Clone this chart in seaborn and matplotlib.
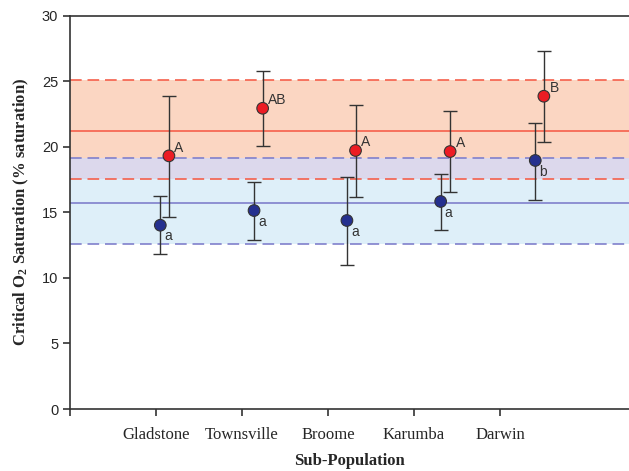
import matplotlib
matplotlib.use("Agg")
import matplotlib.pyplot as plt
import numpy as np
import pandas as pd
import seaborn as sns

# Values
sites = ["Gladstone", "Townsville", "Broome", "Karumba", "Darwin"]
tick_pos = [1, 2, 3, 4, 5]

blue_x = [1.05, 2.14, 3.22, 4.31, 5.41]
blue_y = [14.02, 15.14, 14.38, 15.83, 18.96]
blue_lo = [11.81, 12.93, 11.00, 13.67, 15.95]
blue_hi = [16.23, 17.28, 17.71, 17.93, 21.85]
blue_letters = ["a", "a", "a", "a", "b"]

red_x = [1.15, 2.24, 3.32, 4.42, 5.51]
red_y = [19.31, 22.94, 19.72, 19.64, 23.86]
red_lo = [14.63, 20.07, 16.16, 16.52, 20.35]
red_hi = [23.91, 25.76, 23.22, 22.74, 27.34]
red_letters = ["A", "AB", "A", "A", "B"]

# lower bound, mean, upper bound of the reference bands
red_band = [17.58, 21.20, 25.08]
blue_band = [12.58, 15.72, 19.15]

sns.set_style("ticks")
plt.rcParams["mathtext.fontset"] = "custom"
plt.rcParams["mathtext.rm"] = "Liberation Serif:bold"
plt.rcParams["mathtext.it"] = "Liberation Serif:bold"

df = pd.concat([
    pd.DataFrame({"x": blue_x, "y": blue_y, "lo": blue_lo, "hi": blue_hi,
                  "letter": blue_letters, "group": "blue"}),
    pd.DataFrame({"x": red_x, "y": red_y, "lo": red_lo, "hi": red_hi,
                  "letter": red_letters, "group": "red"}),
], ignore_index=True)

fig = plt.figure(figsize=(6.29, 4.71), dpi=100)
ax = fig.add_axes([0.1113, 0.1316, 0.8887, 0.835])

# bands: blue only, overlap, red only
ax.axhspan(blue_band[0], red_band[0], color="#deeff9", lw=0, zorder=0)
ax.axhspan(red_band[0], blue_band[2], color="#dcd8ec", lw=0, zorder=0)
ax.axhspan(blue_band[2], red_band[2], color="#fbd6c2", lw=0, zorder=0)

red_line = "#f5604c"
blue_line = "#8080cc"
dash = (0, (7, 3.5))
ax.axhline(red_band[1], color=red_line, lw=1.2, zorder=1)
ax.axhline(blue_band[1], color=blue_line, lw=1.2, zorder=1)
ax.axhline(red_band[2], color=red_line, lw=1.2, ls=dash, zorder=1)
ax.axhline(red_band[0], color=red_line, lw=1.2, ls=dash, zorder=1)
ax.axhline(blue_band[2], color=blue_line, lw=1.2, ls=dash, zorder=1)
ax.axhline(blue_band[0], color=blue_line, lw=1.2, ls=dash, zorder=1)

ax.errorbar(df["x"], df["y"], yerr=[df["y"] - df["lo"], df["hi"] - df["y"]],
            fmt="none", ecolor="#333333", elinewidth=1.0, capsize=5, capthick=1.0, zorder=2)

sns.scatterplot(data=df, x="x", y="y", hue="group",
                palette={"blue": "#25308f", "red": "#ec1c24"},
                s=70, edgecolor="#333333", linewidth=0.8, legend=False, zorder=3, ax=ax)

for _, r in df.iterrows():
    if r["group"] == "red":
        ax.annotate(r["letter"], (r["x"], r["y"]), xytext=(4, 3), textcoords="offset points",
                    fontsize=10, color="#333333", family="Liberation Sans")
    else:
        ax.annotate(r["letter"], (r["x"], r["y"]), xytext=(3, -11), textcoords="offset points",
                    fontsize=10, color="#333333", family="Liberation Sans")

ax.set_xlim(0, 6.5)
ax.set_ylim(0, 30)
ax.set_xticks([0] + tick_pos)
ax.set_xticklabels([""] + sites, family="Liberation Serif", fontsize=12)
ax.set_yticks(range(0, 31, 5))
ax.set_yticklabels([str(v) for v in range(0, 31, 5)], family="Liberation Sans", fontsize=10.5)
ax.tick_params(axis="both", direction="out", length=5, width=1.2, color="#333333")
ax.tick_params(axis="x", pad=8)

ax.set_xlabel("Sub-Population", family="Liberation Serif", fontweight="bold", fontsize=12, labelpad=7)
ax.set_ylabel(r"Critical O$_{2}$ Saturation (% saturation)", family="Liberation Serif",
              fontweight="bold", fontsize=12, labelpad=8)

for side in ["top", "bottom", "left"]:
    ax.spines[side].set_color("#333333")
    ax.spines[side].set_linewidth(1.2)
ax.spines["right"].set_visible(False)

fig.savefig("out.png", dpi=100)
